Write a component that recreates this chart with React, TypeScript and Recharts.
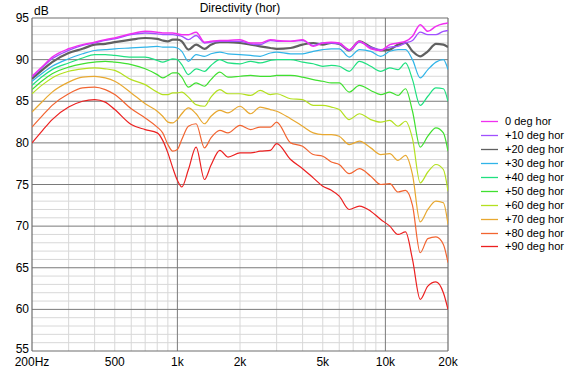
import React from 'react';
import { LineChart, Line, XAxis, YAxis, ReferenceLine, Legend } from 'recharts';

const freqs = [200, 225, 250, 300, 350, 400, 450, 500, 600, 700, 800, 850, 900, 950, 1000, 1050, 1130, 1230, 1350, 1450, 1600, 1750, 2000, 2250, 2500, 2800, 3000, 3500, 4000, 4500, 5000, 5500, 6000, 6700, 7500, 8500, 9500, 10500, 11500, 12500, 13500, 14700, 16000, 17500, 19000, 20000];

const deg0 = [88.0, 89.2, 90.3, 91.3, 91.8, 92.1, 92.4, 92.6, 93.1, 93.4, 93.3, 93.2, 93.2, 93.2, 93.1, 93.0, 93.0, 93.3, 92.1, 92.2, 92.3, 92.3, 92.4, 92.0, 92.0, 92.4, 92.3, 92.2, 92.4, 91.6, 92.0, 92.1, 92.0, 91.2, 92.2, 91.3, 91.1, 91.8, 92.0, 92.2, 92.8, 94.2, 93.4, 94.0, 94.3, 94.4];
const deg10 = [87.9, 89.1, 90.1, 91.1, 91.7, 92.0, 92.3, 92.5, 93.0, 93.2, 93.1, 93.0, 93.0, 93.0, 92.9, 92.8, 92.4, 92.9, 92.0, 92.1, 92.2, 92.2, 92.2, 91.9, 91.8, 92.3, 92.2, 92.2, 92.3, 91.7, 92.0, 92.0, 91.9, 91.1, 92.1, 91.5, 91.2, 91.5, 91.6, 92.0, 92.3, 93.3, 93.0, 93.0, 93.4, 93.5];
const deg20 = [87.7, 88.8, 89.7, 90.8, 91.3, 91.8, 91.9, 92.1, 92.4, 92.6, 92.5, 92.3, 92.2, 92.4, 92.4, 92.2, 91.2, 91.8, 91.3, 91.8, 92.1, 92.1, 92.0, 91.8, 91.6, 91.4, 91.3, 91.4, 91.8, 92.0, 91.8, 92.0, 91.9, 91.1, 92.2, 91.5, 91.1, 91.2, 91.8, 92.0, 91.0, 90.4, 91.0, 91.9, 91.8, 91.5];
const deg30 = [87.4, 88.4, 89.2, 90.1, 90.7, 91.1, 91.2, 91.3, 91.4, 91.5, 91.6, 91.5, 91.5, 91.5, 91.4, 91.0, 89.8, 90.6, 90.4, 90.7, 90.9, 90.7, 90.6, 90.5, 90.4, 90.8, 90.9, 90.7, 90.7, 91.0, 91.2, 91.3, 91.3, 90.3, 91.2, 91.0, 90.4, 91.0, 91.2, 91.2, 90.0, 87.8, 88.8, 89.7, 90.0, 88.8];
const deg40 = [86.9, 88.0, 88.8, 89.6, 90.2, 90.6, 90.6, 90.5, 90.3, 90.3, 89.9, 89.7, 89.9, 90.1, 90.0, 89.4, 88.2, 88.9, 88.6, 89.3, 90.0, 89.6, 89.5, 89.8, 89.6, 89.9, 90.0, 90.0, 89.7, 89.5, 89.2, 89.3, 89.2, 88.6, 89.8, 89.2, 88.6, 89.0, 88.8, 89.6, 87.6, 84.5, 85.6, 86.6, 86.5, 85.0];
const deg50 = [86.4, 87.5, 88.3, 89.1, 89.5, 89.7, 89.8, 89.7, 89.4, 88.9, 88.2, 87.8, 88.1, 88.4, 88.4, 87.9, 86.7, 87.2, 86.8, 87.6, 88.5, 87.9, 88.0, 88.1, 88.0, 88.0, 88.1, 88.1, 87.9, 87.6, 87.4, 87.2, 87.2, 86.1, 86.9, 86.3, 85.8, 86.1, 85.7, 86.5, 83.8, 79.5, 80.8, 81.8, 81.2, 79.0];
const deg60 = [85.9, 87.0, 87.8, 88.6, 88.9, 89.0, 88.9, 88.7, 87.6, 87.0, 86.1, 85.8, 85.8, 86.0, 86.0, 86.1, 85.5, 84.6, 84.4, 85.5, 86.4, 85.9, 85.9, 85.7, 86.3, 85.8, 85.9, 85.3, 85.2, 84.5, 84.5, 84.3, 84.0, 82.8, 83.5, 82.8, 82.5, 82.7, 82.0, 82.6, 80.5, 75.2, 76.5, 77.4, 76.8, 74.2];
const deg70 = [83.7, 85.0, 86.1, 87.3, 87.9, 88.0, 87.8, 87.4, 86.0, 84.7, 83.8, 83.2, 82.5, 82.4, 82.8, 83.5, 84.2, 83.5, 82.3, 83.2, 83.9, 83.6, 84.4, 83.5, 84.3, 84.0, 83.8, 82.9, 82.0, 81.2, 81.0, 81.0, 80.8, 79.8, 80.2, 79.4, 78.6, 78.7, 77.9, 78.5, 76.2, 70.5, 72.0, 73.0, 72.8, 70.2];
const deg80 = [81.9, 83.3, 84.5, 85.9, 86.6, 86.7, 86.4, 85.8, 84.1, 83.0, 81.9, 81.2, 79.8, 79.0, 79.2, 80.4, 82.0, 82.3, 79.4, 80.6, 81.5, 81.2, 82.1, 81.6, 81.9, 81.9, 82.5, 80.0, 79.6, 78.6, 78.4, 77.7, 77.4, 76.3, 76.9, 76.0, 75.0, 75.1, 74.1, 74.3, 72.5, 66.8, 68.5, 68.7, 67.8, 65.6];
const deg90 = [80.0, 81.5, 82.8, 84.3, 85.0, 85.2, 84.9, 84.0, 82.2, 81.6, 81.2, 80.3, 78.8, 77.0, 75.5, 74.7, 76.8, 79.5, 75.6, 77.3, 79.1, 78.3, 78.8, 78.8, 79.0, 79.1, 79.9, 78.0, 76.9, 75.8, 74.8, 74.3, 73.6, 72.0, 72.4, 71.8, 70.8, 70.0, 69.0, 69.3, 66.0, 61.2, 62.8, 63.3, 62.0, 60.0];

const seriesLabels = ['0 deg hor', '+10 deg hor', '+20 deg hor', '+30 deg hor', '+40 deg hor', '+50 deg hor', '+60 deg hor', '+70 deg hor', '+80 deg hor', '+90 deg hor'];
const seriesColors = ['#f030f0', '#a050ff', '#606060', '#30b4e8', '#20e080', '#40e030', '#b4e020', '#e8a830', '#f26430', '#ec2020'];
const seriesWidths = [1.5, 1.3, 2.2, 1.2, 1.2, 1.2, 1.2, 1.2, 1.2, 1.2];
const seriesValues = [deg0, deg10, deg20, deg30, deg40, deg50, deg60, deg70, deg80, deg90];

const xTicks = [200, 500, 1000, 2000, 5000, 10000, 20000];
const xTickLabels = ['200Hz', '500', '1k', '2k', '5k', '10k', '20k'];
const yTicks = [55, 60, 65, 70, 75, 80, 85, 90, 95];
const minorFreqs = [300, 400, 500, 600, 700, 800, 900, 2000, 3000, 4000, 5000, 6000, 7000, 8000, 9000];
const majorFreqs = [1000, 10000];
const frameFreqs = [200, 20000];
const minorDb = [56, 57, 58, 59, 61, 62, 63, 64, 66, 67, 68, 69, 71, 72, 73, 74, 76, 77, 78, 79, 81, 82, 83, 84, 86, 87, 88, 89, 91, 92, 93, 94];
const majorDb = [60, 65, 70, 75, 80, 85, 90];
const frameDb = [55, 95];

const data = freqs.map((f, i) => {
  const row: Record<string, number> = { f };
  seriesValues.forEach((vals, k) => {
    row['s' + k] = vals[i];
  });
  return row;
});

const FONT = '"Liberation Sans", Arial, sans-serif';

const YTick = (props: any) => {
  const { x, y, payload } = props;
  const v = payload.value;
  return (
    <text x={x} y={y} dy={v === yTicks[0] ? 1.5 : 4} textAnchor="end" fontFamily={FONT} fontSize={12} fill="#000">
      {v}
    </text>
  );
};

const renderLegend = () => (
  <div style={{ fontFamily: FONT, fontSize: 11, color: '#000' }}>
    {seriesLabels.map((label, i) => (
      <div key={label} style={{ display: 'flex', alignItems: 'center', height: 13.9 }}>
        <svg width={17} height={3} style={{ display: 'block' }}>
          <line x1={0} y1={1.5} x2={17} y2={1.5} stroke={seriesColors[i]} strokeWidth={1.3} />
        </svg>
        <span style={{ marginLeft: 7, whiteSpace: 'nowrap', lineHeight: '13px' }}>{label}</span>
      </div>
    ))}
  </div>
);

export default function App() {
  const order = seriesValues.map((_, i) => seriesValues.length - 1 - i);
  return (
    <div style={{ position: 'absolute', left: 0, top: 0, width: 572, height: 368, background: '#fff' }}>
      <LineChart width={572} height={368} data={data} margin={{ top: 18, right: 124, bottom: 0, left: 0 }}>
        <XAxis
          dataKey="f"
          type="number"
          scale="log"
          domain={[200, 20000]}
          ticks={xTicks}
          tickFormatter={(v: number) => xTickLabels[xTicks.indexOf(v)] ?? String(v)}
          height={17}
          axisLine={false}
          tickLine={false}
          tickSize={4}
          tickMargin={2}
          interval={0}
          allowDataOverflow
          tick={{ fontSize: 12, fill: '#000', fontFamily: FONT }}
        />
        <YAxis
          type="number"
          domain={[55, 95]}
          ticks={yTicks}
          width={32}
          axisLine={false}
          tickLine={false}
          tickSize={2}
          tickMargin={1}
          interval={0}
          allowDataOverflow
          tick={<YTick />}
        />
        {minorFreqs.map((f) => (
          <ReferenceLine key={'mf' + f} x={f} stroke="#d8d8d8" strokeWidth={1} />
        ))}
        {minorDb.map((d) => (
          <ReferenceLine key={'md' + d} y={d} stroke="#d8d8d8" strokeWidth={1} />
        ))}
        {majorFreqs.map((f) => (
          <ReferenceLine key={'Mf' + f} x={f} stroke="#7a7a7a" strokeWidth={1} />
        ))}
        {majorDb.map((d) => (
          <ReferenceLine key={'Md' + d} y={d} stroke="#7a7a7a" strokeWidth={1} />
        ))}
        {frameFreqs.map((f) => (
          <ReferenceLine key={'Ff' + f} x={f} stroke="#6e6e6e" strokeWidth={1.2} />
        ))}
        {frameDb.map((d) => (
          <ReferenceLine key={'Fd' + d} y={d} stroke="#6e6e6e" strokeWidth={1.2} />
        ))}
        {order.map((k) => (
          <Line
            key={'s' + k}
            dataKey={'s' + k}
            name={seriesLabels[k]}
            type="monotone"
            stroke={seriesColors[k]}
            strokeWidth={seriesWidths[k]}
            dot={false}
            activeDot={false}
            isAnimationActive={false}
          />
        ))}
        <Legend
          layout="vertical"
          align="center"
          verticalAlign="middle"
          content={renderLegend}
          wrapperStyle={{ left: 481, top: 115, width: 91 }}
        />
      </LineChart>
      <svg width={572} height={368} style={{ position: 'absolute', left: 0, top: 0, pointerEvents: 'none' }}>
        <text x={240} y={11.5} textAnchor="middle" fontFamily={FONT} fontSize={12} fill="#000">Directivity (hor)</text>
        <text x={34} y={14.5} fontFamily={FONT} fontSize={12} fill="#000">dB</text>
      </svg>
    </div>
  );
}
